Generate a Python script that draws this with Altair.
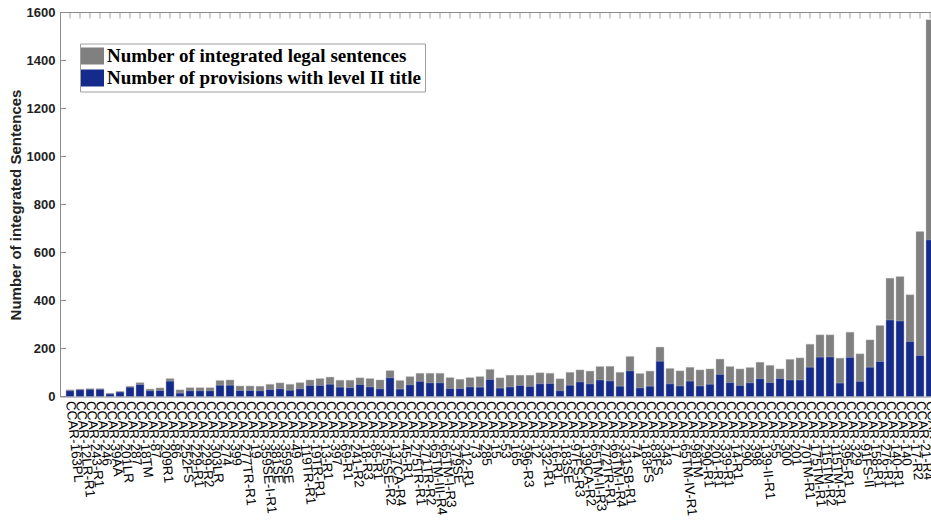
import altair as alt
import pandas as pd

# Regulation identifiers, in plotting order
labels = [
    "CCAR-163PL", "CCAR-12LR-R1", "CCAR-243-R1", "CCAR-246", "CCAR-39AA",
    "CCAR-201LR", "CCAR-287", "CCAR-18TM", "CCAR-87", "CCAR-209R1",
    "CCAR-86", "CCAR-252FS", "CCAR-229-R1", "CCAR-229-R2", "CCAR-303LR",
    "CCAR-274", "CCAR-399", "CCAR-277TR-R1", "CCAR-19", "CCAR-359SE-I-R1",
    "CCAR-381SE", "CCAR-359SE", "CCAR-49", "CCAR-119TR-R1", "CCAR-19TR-R1",
    "CCAR-13-R1", "CCAR-397", "CCAR-69-R1", "CCAR-241-R2", "CCAR-18-R3",
    "CCAR-85-R1", "CCAR-375SE-R2", "CCAR-137CA-R4", "CCAR-45-R1", "CCAR-275TR-R1",
    "CCAR-271TR-R2", "CCAR-65TM-III-R4", "CCAR-65TM-I-R3", "CCAR-379SE", "CCAR-212-R1",
    "CCAR-73", "CCAR-285", "CCAR-15", "CCAR-53", "CCAR-165",
    "CCAR-396-R3", "CCAR-12", "CCAR-332-R1", "CCAR-16-R1", "CCAR-183SE",
    "CCAR-97FS-R3", "CCAR-139CA-R2", "CCAR-65TM-II-R3", "CCAR-272TR-R1", "CCAR-66TM-I-R4",
    "CCAR-331SB-R1", "CCAR-74", "CCAR-183FS", "CCAR-83FS", "CCAR-343",
    "CCAR-17", "CCAR-65TM-IV-R1", "CCAR-98TM", "CCAR-290-R1", "CCAR-201-R1",
    "CCAR-339-R1", "CCAR-14-R1", "CCAR-290", "CCAR-398", "CCAR-139-II-R1",
    "CCAR-55", "CCAR-300", "CCAR-201", "CCAR-70TM-R1", "CCAR-175TM-R1",
    "CCAR-115TM-R2", "CCAR-115TM-R1", "CCAR-395-R1", "CCAR-329", "CCAR-91FS-II",
    "CCAR-158-R1", "CCAR-276-R1", "CCAR-140-R1", "CCAR-140", "CCAR-17-R2",
    "CCAR-21-R4", "CCAR-93TM-R3",
]

# Number of integrated legal sentences per regulation
total_sentences = [
    28, 31, 33, 33, 14, 22, 43, 58, 31, 36,
    75, 28, 37, 37, 37, 67, 69, 44, 44, 43,
    51, 57, 51, 58, 69, 75, 81, 68, 68, 78,
    75, 69, 108, 67, 83, 97, 97, 97, 79, 72,
    79, 83, 113, 78, 89, 89, 89, 99, 97, 74,
    101, 111, 106, 125, 126, 101, 167, 96, 106, 206,
    117, 107, 122, 111, 115, 156, 125, 115, 121, 143,
    130, 115, 155, 161, 218, 257, 257, 160, 268, 178,
    236, 296, 493, 500, 424, 688, 1570,
]

# Number of provisions carrying a level II title
level2_provisions = [
    24, 28, 30, 30, 11, 19, 39, 50, 24, 25,
    64, 14, 24, 24, 24, 47, 47, 25, 25, 24,
    29, 32, 26, 32, 46, 46, 51, 39, 37, 50,
    40, 32, 78, 31, 49, 63, 57, 57, 33, 33,
    40, 39, 71, 35, 40, 46, 42, 53, 54, 24,
    47, 61, 53, 69, 65, 43, 107, 36, 43, 147,
    53, 44, 64, 44, 51, 92, 58, 46, 57, 74,
    58, 75, 69, 69, 122, 164, 165, 56, 163, 63,
    122, 146, 319, 315, 229, 171, 653,
]

SERIES_TOTAL = "Number of integrated legal sentences"
SERIES_L2 = "Number of provisions with level II title"
y_ticks = [0, 200, 400, 600, 800, 1000, 1200, 1400, 1600]

df = pd.DataFrame({
    "regulation": labels,
    SERIES_TOTAL: total_sentences,
    SERIES_L2: level2_provisions,
})
tick_df = pd.DataFrame({"count": y_ticks})

W, H = 871, 384
AXIS_GRAY = "#8c8c8c"
SANS = "Liberation Sans"

x_scale = alt.Scale(range=[0, 880], paddingInner=0.2, paddingOuter=0.6)
y_scale = alt.Scale(domain=[0, 1600], nice=False)

x_axis = alt.Axis(
    title=None, labelAngle=84, labelFont=SANS, labelFontSize=13.5,
    labelColor="black", labelOverlap=False, labelBound=False,
    labelPadding=4, labelLimit=300, ticks=False, domainColor=AXIS_GRAY,
)
y_axis = alt.Axis(
    title="Number of integrated Sentences", values=y_ticks, format="d",
    ticks=False, grid=False, domainColor=AXIS_GRAY,
    labelFont=SANS, labelFontSize=13, labelFontWeight="bold",
    labelColor="#222222", labelPadding=5,
    titleFont=SANS, titleFontSize=15, titleFontWeight="bold",
    titleColor="#222222", titlePadding=3,
)

x_enc = alt.X("regulation:N", sort=None, scale=x_scale, axis=x_axis)
y_enc = alt.Y("count:Q", stack=None, scale=y_scale, axis=y_axis)

bars = (
    alt.Chart(df)
    .transform_fold([SERIES_TOTAL, SERIES_L2], as_=["series", "count"])
    .mark_bar(stroke="#c8c8c8", strokeWidth=0.4)
    .encode(
        x=x_enc,
        y=y_enc,
        color=alt.Color(
            "series:N",
            scale=alt.Scale(domain=[SERIES_TOTAL, SERIES_L2],
                            range=["#808080", "#142b8c"]),
            legend=alt.Legend(
                title=None, orient="none", legendX=20, legendY=31,
                symbolType="M-1.35,-1H1.35V1H-1.35Z", symbolSize=289,
                symbolStrokeWidth=0, symbolOpacity=1,
                labelFont="Liberation Serif", labelFontSize=19,
                labelFontWeight="bold", labelColor="black", labelLimit=600,
                labelOffset=5, strokeColor="#a0a0a0", fillColor="white",
                padding=3, rowPadding=2,
            ),
        ),
    )
)

# Box line along the top of the plot area
top_line = alt.Chart(tick_df).mark_rule(color=AXIS_GRAY).encode(
    x=alt.value(0), x2=alt.value(W + 20), y=alt.value(0)
)

# Inward ticks hanging from the top border, one per regulation
top_ticks = alt.Chart(df).mark_rule(color=AXIS_GRAY, strokeWidth=0.8).encode(
    x=x_enc, y=alt.value(0), y2=alt.value(6),
)

# Inward ticks on the value axis
left_ticks = alt.Chart(tick_df).mark_rule(color=AXIS_GRAY).encode(
    y=y_enc, x=alt.value(0), x2=alt.value(6)
)

chart = (
    alt.layer(bars, top_line, top_ticks, left_ticks)
    .properties(
        width=W, height=H,
        autosize=alt.AutoSizeParams(type="none"),
        padding={"left": 60, "top": 12.5, "right": 0, "bottom": 124.5},
    )
    .configure_view(stroke=None)
)

chart.save("out.html", embed_options={"renderer": "svg", "actions": False})
